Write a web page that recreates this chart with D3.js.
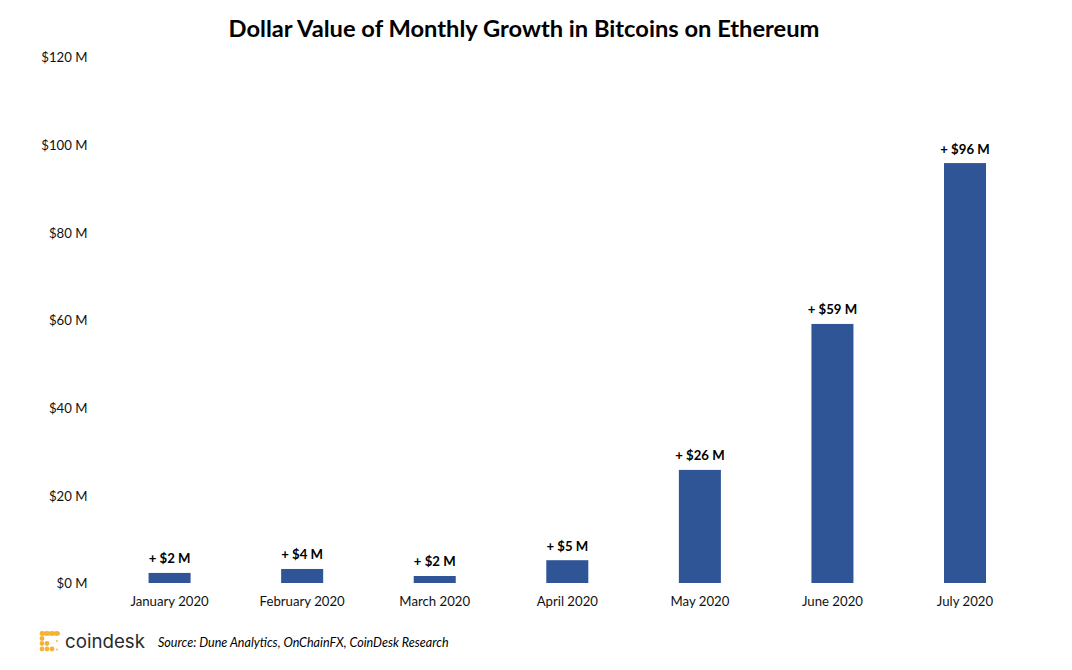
<!DOCTYPE html>
<html>
<head>
<meta charset="utf-8">
<script src="https://d3js.org/d3.v7.min.js"></script>
<style>
  body { margin: 0; background: #fff; }
  text { font-family: Lato, "Open Sans", sans-serif; fill: #000; }
  .axis path, .axis line { display: none; }
  .axis text { font-size: 13.2px; fill: #111; font-family: Lato, sans-serif; }
</style>
</head>
<body>
<div id="chart"></div>
<script>
const width = 1072;
const height = 670;

const months = ["January 2020", "February 2020", "March 2020", "April 2020", "May 2020", "June 2020", "July 2020"];
const values = [2.3, 3.2, 1.6, 5.2, 25.8, 59.1, 95.8];
const barLabels = ["+ $2 M", "+ $4 M", "+ $2 M", "+ $5 M", "+ $26 M", "+ $59 M", "+ $96 M"];
const yTicks = [0, 20, 40, 60, 80, 100, 120];

const svg = d3.select("#chart")
    .append("svg")
    .attr("width", width)
    .attr("height", height)
    .style("display", "block");

const x = d3.scaleBand()
    .domain(months)
    .range([103.3, 1031.3])
    .paddingInner(0.683)
    .paddingOuter(0.3415);

const y = d3.scaleLinear()
    .domain([0, 120])
    .range([583, 57]);

svg.append("text")
    .attr("x", 524)
    .attr("y", 37)
    .attr("text-anchor", "middle")
    .style("font-size", "23.7px")
    .style("font-weight", 700)
    .text("Dollar Value of Monthly Growth in Bitcoins on Ethereum");

svg.append("g")
    .attr("class", "axis")
    .attr("transform", "translate(87.5,0.5)")
    .call(d3.axisLeft(y).tickValues(yTicks).tickSize(0).tickPadding(0).tickFormat(d => `$${d} M`));

svg.append("g")
    .attr("class", "axis")
    .attr("transform", "translate(0,597)")
    .call(d3.axisBottom(x).tickSize(0).tickPadding(0));

svg.selectAll("rect.bar")
    .data(values)
    .enter()
    .append("rect")
    .attr("class", "bar")
    .attr("x", (d, i) => x(months[i]))
    .attr("y", d => y(d))
    .attr("width", x.bandwidth())
    .attr("height", d => y(0) - y(d))
    .attr("fill", "#2f5597");

svg.selectAll("text.bar-label")
    .data(values)
    .enter()
    .append("text")
    .attr("class", "bar-label")
    .attr("x", (d, i) => x(months[i]) + x.bandwidth() / 2)
    .attr("y", d => y(d) - 9.5)
    .attr("text-anchor", "middle")
    .style("font-size", "13.2px")
    .style("font-weight", 700)
    .text((d, i) => barLabels[i]);

// coindesk logo mark, a broken square of dots
const logoDots = [[42, 633.5], [47, 633.5], [52, 633.5], [57, 633.5], [42, 638.5], [42, 643.5], [47, 643.5], [42, 649], [47, 649], [52, 649]];
const logoSpecks = [[57, 641], [57, 649.5]];
const logo = svg.append("g").attr("fill", "#f5b335");
logo.append("rect").attr("x", 40).attr("y", 631.5).attr("width", 20).attr("height", 4).attr("rx", 2);
logo.selectAll("circle.big")
    .data(logoDots)
    .enter()
    .append("circle")
    .attr("class", "big")
    .attr("cx", d => d[0])
    .attr("cy", d => d[1])
    .attr("r", 2.4);
logo.selectAll("circle.small")
    .data(logoSpecks)
    .enter()
    .append("circle")
    .attr("class", "small")
    .attr("cx", d => d[0])
    .attr("cy", d => d[1])
    .attr("r", 0.9);

svg.append("text")
    .attr("x", 65)
    .attr("y", 648)
    .style("font-size", "18.7px")
    .style("font-family", "Inter, sans-serif")
    .style("fill", "#2b2b2b")
    .text("coindesk");

svg.append("text")
    .attr("x", 158)
    .attr("y", 647)
    .style("font-size", "12.55px")
    .style("font-style", "italic")
    .text("Source: Dune Analytics, OnChainFX, CoinDesk Research");
</script>
</body>
</html>
